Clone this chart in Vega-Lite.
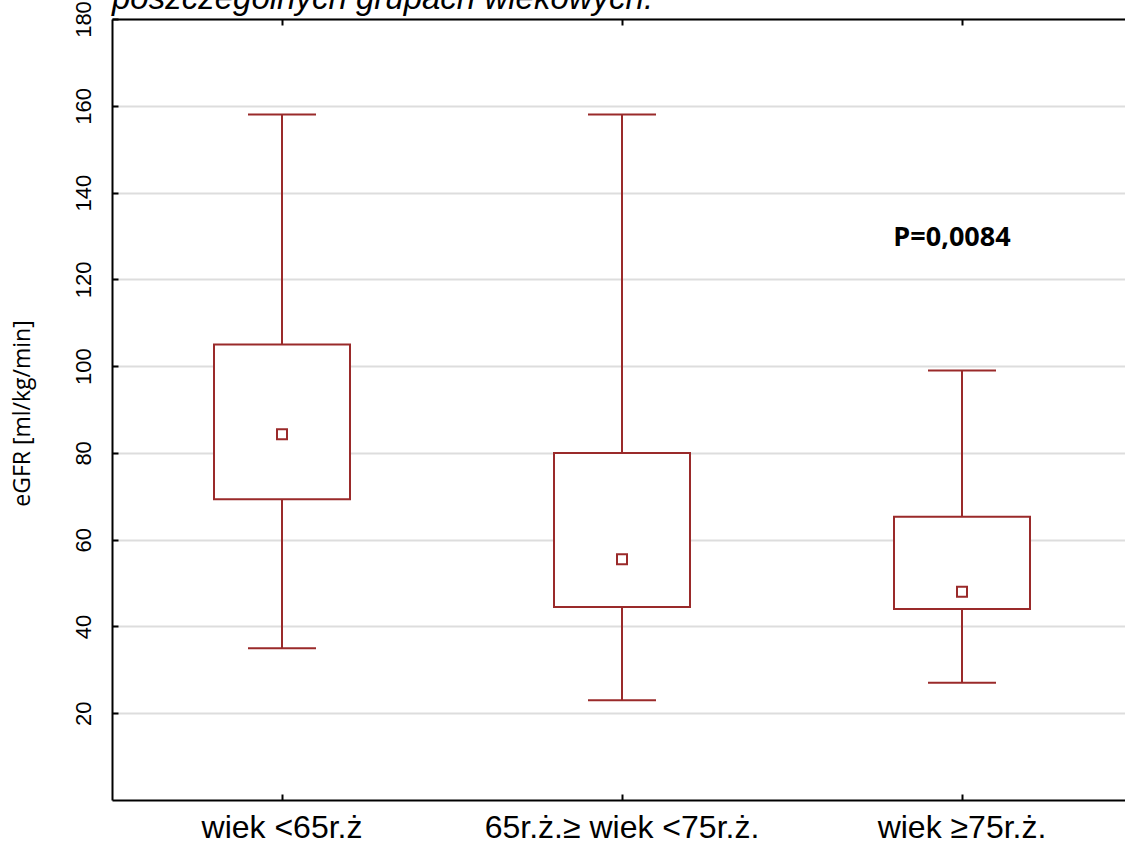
{
  "$schema": "https://vega.github.io/schema/vega-lite/v6.json",
  "autosize": {"type": "none"},
  "padding": {"left": 112, "top": 19, "right": 0, "bottom": 44},
  "width": 1013,
  "height": 781,
  "background": "white",
  "title": {
    "text": "poszczególnych grupach wiekowych.",
    "anchor": "start",
    "frame": "group",
    "font": "Liberation Sans",
    "fontSize": 33,
    "fontStyle": "italic",
    "fontWeight": "normal",
    "baseline": "alphabetic",
    "offset": -41,
    "color": "black"
  },
  "config": {
    "view": {"stroke": null},
    "axis": {
      "labelFont": "Liberation Sans",
      "labelColor": "black",
      "domainColor": "black",
      "domainWidth": 2,
      "tickColor": "black",
      "tickWidth": 2,
      "tickSize": -6,
      "gridColor": "#dddddd",
      "gridWidth": 2
    }
  },
  "data": {
    "values": [
      {"group": "wiek <65r.ż", "lower": 35, "q1": 69.3, "mean": 84.3, "q3": 105, "upper": 158},
      {"group": "65r.ż.≥ wiek <75r.ż.", "lower": 23, "q1": 44.5, "mean": 55.5, "q3": 80, "upper": 158},
      {"group": "wiek ≥75r.ż.", "lower": 27, "q1": 44, "mean": 48, "q3": 65.3, "upper": 99}
    ]
  },
  "resolve": {"axis": {"x": "independent", "y": "independent"}},
  "layer": [
    {
      "mark": {"type": "rule", "color": "#9a2a2a", "strokeWidth": 2},
      "encoding": {
        "x": {
          "field": "group", "type": "nominal", "sort": null,
          "scale": {"range": [0, 1020], "paddingInner": 0, "paddingOuter": 0},
          "axis": {
            "orient": "bottom", "title": null, "labelAngle": 0,
            "labelFontSize": 32, "labelBaseline": "alphabetic", "labelPadding": 43,
            "labelLimit": 0, "grid": false
          }
        },
        "y": {
          "field": "lower", "type": "quantitative",
          "scale": {"domain": [0, 180], "nice": false, "zero": false},
          "axis": {
            "orient": "left", "values": [20, 40, 60, 80, 100, 120, 140, 160, 180],
            "labelAngle": -90, "labelAlign": "center", "labelBaseline": "alphabetic",
            "labelFontSize": 22, "labelPadding": 28,
            "grid": true,
            "title": "eGFR [ml/kg/min]",
            "titleFont": "Open Sans", "titleFontSize": 23, "titleFontWeight": "normal",
            "titleColor": "black", "titleAngle": -90, "titleAlign": "center",
            "titleBaseline": "middle", "titleX": -90, "titleY": 394
          }
        },
        "y2": {"field": "upper"}
      }
    },
    {
      "mark": {"type": "bar", "fill": "white", "stroke": "#9a2a2a", "strokeWidth": 2, "size": 136},
      "encoding": {
        "x": {
          "field": "group", "type": "nominal", "sort": null,
          "axis": {"orient": "top", "title": null, "labels": false, "grid": false}
        },
        "y": {"field": "q1", "type": "quantitative", "axis": null},
        "y2": {"field": "q3"}
      }
    },
    {
      "mark": {"type": "tick", "color": "#9a2a2a", "thickness": 2, "size": 68, "orient": "horizontal", "opacity": 1},
      "encoding": {
        "x": {"field": "group", "type": "nominal", "sort": null, "axis": null},
        "y": {"field": "lower", "type": "quantitative", "axis": null}
      }
    },
    {
      "mark": {"type": "tick", "color": "#9a2a2a", "thickness": 2, "size": 68, "orient": "horizontal", "opacity": 1},
      "encoding": {
        "x": {"field": "group", "type": "nominal", "sort": null, "axis": null},
        "y": {"field": "upper", "type": "quantitative", "axis": null}
      }
    },
    {
      "mark": {"type": "point", "shape": "square", "filled": false, "fill": "white", "stroke": "#9a2a2a", "strokeWidth": 2, "size": 100, "opacity": 1},
      "encoding": {
        "x": {"field": "group", "type": "nominal", "sort": null, "axis": null},
        "y": {"field": "mean", "type": "quantitative", "axis": null}
      }
    },
    {
      "data": {"values": [{"group": "wiek ≥75r.ż.", "value": 127.6, "label": "P=0,0084"}]},
      "mark": {"type": "text", "font": "Open Sans", "fontSize": 27, "fontWeight": "bold", "color": "black", "align": "center", "baseline": "alphabetic", "dx": -10},
      "encoding": {
        "x": {"field": "group", "type": "nominal", "sort": null, "axis": null},
        "y": {"field": "value", "type": "quantitative", "axis": null},
        "text": {"field": "label"}
      }
    }
  ]
}
